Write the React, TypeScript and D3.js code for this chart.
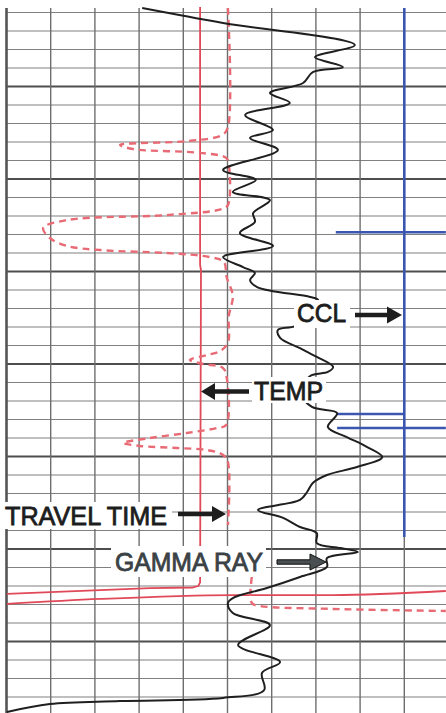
import * as d3 from "d3";

// depth in ft below top grid line, values in track divisions (0-100)
const GAMMA_RAY: [number, number][] = [
  [-0.24, 30.7], [0.57, 49.0], [1.76, 78.8], [2.41, 69.8], [2.95, 76.1], [3.22, 69.3],
  [3.81, 67.1], [4.35, 59.6], [4.89, 64.1], [5.54, 54.0], [6.35, 60.3], [6.78, 55.1],
  [7.43, 61.4], [8.51, 49.0], [9.05, 56.4], [9.7, 51.2], [10.14, 59.6], [10.84, 55.8],
  [11.32, 56.2], [11.92, 52.8], [12.62, 60.3], [13.22, 49.0], [13.76, 53.5], [14.08, 56.2],
  [14.46, 55.1], [14.84, 56.7], [15.38, 68.7], [15.54, 70.5], [16.3, 69.1], [16.95, 65.3],
  [17.16, 61.4], [17.59, 61.9], [18.14, 66.4], [18.35, 68.0], [18.62, 70.2], [19.16, 73.9],
  [19.43, 72.7], [19.65, 68.7], [20.51, 66.4], [21.32, 69.1], [21.65, 74.8], [22.41, 72.7],
  [22.95, 77.0], [23.49, 81.6], [24.03, 85.0], [24.57, 79.3], [25.0, 72.5], [25.43, 69.3],
  [25.92, 68.0], [26.35, 66.4], [26.89, 56.9], [27.32, 62.6], [27.81, 66.4], [28.14, 70.2],
  [28.68, 70.2], [28.95, 75.5], [29.16, 79.5], [29.49, 72.5], [29.97, 72.5], [30.51, 66.4],
  [31.11, 58.9], [31.65, 51.2], [31.92, 50.1], [32.46, 51.2], [33.11, 59.6], [34.19, 52.4],
  [35.11, 61.9], [35.7, 57.8], [36.62, 58.3], [37.05, 49.0], [37.22, 25.7], [37.38, 9.8],
  [37.81, 0.1],
];

// null value = break in the trace
const TEMP: [number, number | null][] = [
  [-0.24, 50.1], [6.19, 50.1], [6.62, 48.8], [6.95, 40.8], [7.16, 25.7], [7.38, 28.6],
  [7.59, 43.8], [7.86, 49.7], [8.24, 50.3], [10.41, 50.1], [10.62, 48.8], [10.95, 36.3],
  [11.22, 13.7], [11.65, 8.3], [12.19, 9.8], [12.62, 13.7], [12.84, 21.2], [13.0, 36.3],
  [13.22, 46.0], [13.49, 49.2], [14.3, 49.8], [15.32, 51.2], [16.4, 50.3], [17.86, 50.1],
  [18.3, 48.3], [18.51, 45.4], [18.78, 41.5], [19.0, 44.5], [19.22, 49.0], [19.86, 49.9],
  [22.3, 49.7], [22.46, 47.6], [22.73, 40.8], [23.0, 32.5], [23.27, 26.4], [23.43, 30.2],
  [23.54, 38.6], [23.65, 45.4], [23.92, 49.0], [24.3, 50.1], [27.7, 50.1], [28.5, null],
  [30.51, 55.5], [31.92, 55.5], [32.08, 57.4], [32.24, 73.9], [32.35, 99.4],
];

const TRAVEL_TIME: [number, number][] = [
  [-0.3, 43.8], [13.65, 43.8], [13.92, 44.0], [30.8, 43.8], [31.0, 43.4], [31.08, 42.2],
  [31.11, 32.5], [31.22, 21.2], [31.43, 0.1],
];

const TRAVEL_TIME_WRAP: [number, number][] = [
  [31.97, 0.1], [31.7, 21.2], [31.49, 51.2], [31.49, 73.9], [31.27, 99.4],
];

const CCL_BASE = 90;
const CCL_TOP = -0.24;
const CCL_BOTTOM = 28.35;
// collar kicks: depth, left extent, right extent
const CCL_KICKS: [number, number, number][] = [
  [11.88, 74.5, 99.4],
  [21.7, 74.8, 90],
  [22.46, 74.8, 99.4],
];

const GRID_COLS = d3.range(0, 101, 10);
const GRID_ROWS = d3.range(0, 38);

const W = 446;
const H = 713;

const x = d3.scaleLinear().domain([0, 100]).range([6.5, 448.5]);
const y = d3.scaleLinear().domain([0, 37]).range([12.5, 697]);

function arrow(x1: number, x2: number, yy: number, head = 14, hw = 8, sw = 2.2) {
  // x1 = tail, x2 = tip
  const dir = x2 > x1 ? 1 : -1;
  const hb = x2 - dir * head;
  return `M${x1},${yy - sw} L${hb},${yy - sw} L${hb},${yy - hw} L${x2},${yy} L${hb},${yy + hw} L${hb},${yy + sw} L${x1},${yy + sw} Z`;
}

export default function App() {
  const smooth = d3.curveCatmullRom.alpha(0.5);
  const grLine = d3
    .line<[number, number]>()
    .x((d) => x(d[1]))
    .y((d) => y(d[0]))
    .curve(smooth);
  const tempLine = d3
    .line<[number, number | null]>()
    .defined((d) => d[1] != null)
    .x((d) => x(d[1] as number))
    .y((d) => y(d[0]))
    .curve(smooth);
  const ttLine = d3
    .line<[number, number]>()
    .x((d) => x(d[1]))
    .y((d) => y(d[0]));
  const wrapLine = d3
    .line<[number, number]>()
    .x((d) => x(d[1]))
    .y((d) => y(d[0]))
    .curve(d3.curveMonotoneX);

  const font = "'Liberation Sans', Arial, sans-serif";
  const labels = [
    { t: "CCL", x: 297, y: 322, w: 49, box: [294, 300, 56, 28], fill: "#1d1d1d" },
    { t: "TEMP", x: 254, y: 400, w: 69, box: [252, 377, 74, 26], fill: "#1d1d1d" },
    { t: "TRAVEL TIME", x: 5, y: 524.5, w: 162, box: [0, 502, 172, 27], fill: "#1d1d1d" },
    { t: "GAMMA RAY", x: 115, y: 570.5, w: 148, box: [111, 546, 155, 31], fill: "#3b4246" },
  ];

  return (
    <svg
      width={W}
      height={H}
      style={{ position: "absolute", left: 0, top: 0, background: "#fff" }}
    >
      <rect width={W} height={H} fill="#fff" />
      {/* grid */}
      {GRID_ROWS.map((k) => (
        <line
          key={"h" + k}
          x1={x(0)}
          x2={W}
          y1={y(k)}
          y2={y(k)}
          stroke={k % 5 === 4 ? "#4e4e4e" : "#808080"}
          strokeWidth={k % 5 === 4 ? 2.2 : 1.2}
        />
      ))}
      {GRID_COLS.map((c) => (
        <line
          key={"v" + c}
          x1={x(c)}
          x2={x(c)}
          y1={8}
          y2={H}
          stroke={c === 0 ? "#555" : "#6e6e6e"}
          strokeWidth={c === 0 ? 2.6 : 1.4}
        />
      ))}

      {/* CCL */}
      <line
        x1={x(CCL_BASE)}
        x2={x(CCL_BASE)}
        y1={y(CCL_TOP)}
        y2={y(CCL_BOTTOM)}
        stroke="#3a56b0"
        strokeWidth={2.6}
      />
      {CCL_KICKS.map(([d, l, r], i) => (
        <line
          key={"k" + i}
          x1={x(l)}
          x2={x(r)}
          y1={y(d)}
          y2={y(d)}
          stroke="#3a56b0"
          strokeWidth={2.6}
        />
      ))}

      {/* travel time */}
      <path
        d={ttLine(TRAVEL_TIME) ?? ""}
        fill="none"
        stroke="#e04a58"
        strokeWidth={1.8}
        strokeLinejoin="round"
      />
      <path d={wrapLine(TRAVEL_TIME_WRAP) ?? ""} fill="none" stroke="#e04a58" strokeWidth={1.8} />

      {/* temperature */}
      <path
        d={tempLine(TEMP) ?? ""}
        fill="none"
        stroke="#e86a74"
        strokeWidth={2.4}
        strokeDasharray="7 5"
      />

      {/* gamma ray */}
      <path
        d={grLine(GAMMA_RAY) ?? ""}
        fill="none"
        stroke="#1f1f1f"
        strokeWidth={2}
        strokeLinejoin="round"
      />

      {/* labels */}
      {labels.map((l) => (
        <g key={l.t}>
          <rect x={l.box[0]} y={l.box[1]} width={l.box[2]} height={l.box[3]} fill="#fff" />
          <text
            x={l.x}
            y={l.y}
            fontFamily={font}
            fontSize={25}
            fill={l.fill}
            stroke={l.fill}
            strokeWidth={0.8}
            textLength={l.w}
            lengthAdjust="spacingAndGlyphs"
          >
            {l.t}
          </text>
        </g>
      ))}
      <path d={arrow(355, 402, 315, 15, 8.5)} fill="#1d1d1d" />
      <path d={arrow(249, 201, 391.5, 14, 8.5)} fill="#1d1d1d" />
      <path d={arrow(178, 226, 514, 14, 8)} fill="#1d1d1d" />
      <path
        d={arrow(277, 326, 562, 16, 8)}
        fill="#4a4f52"
        stroke="#111"
        strokeWidth={1}
      />
    </svg>
  );
}
